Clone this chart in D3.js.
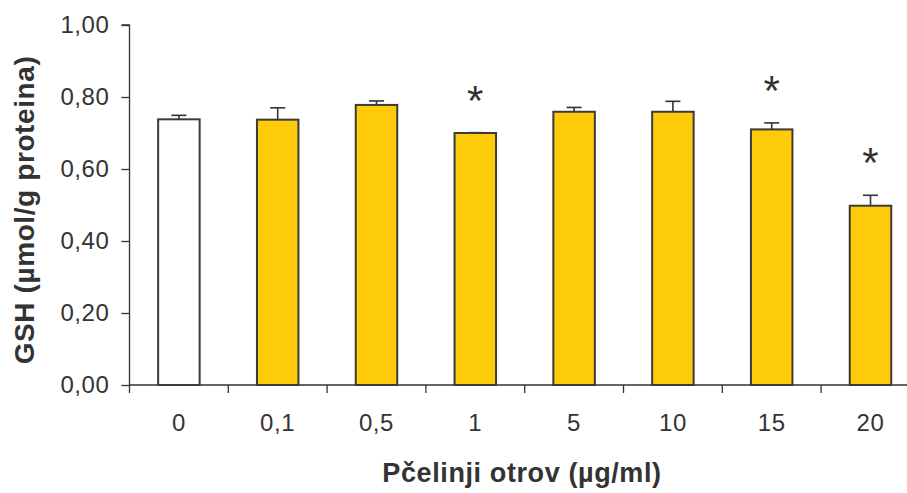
<!DOCTYPE html>
<html>
<head>
<meta charset="utf-8">
<script src="https://cdn.jsdelivr.net/npm/d3@7"></script>
<style>
  body { margin: 0; background: #fff; }
  text { font-family: "Liberation Sans", Arial, sans-serif; fill: #333; }
</style>
</head>
<body>
<div id="chart"></div>
<script>
let categories = ["0", "0,1", "0,5", "1", "5", "10", "15", "20"];
let values = [0.738, 0.737, 0.778, 0.700, 0.759, 0.759, 0.710, 0.498];
let errors = [0.011, 0.033, 0.011, 0.001, 0.012, 0.029, 0.018, 0.029];
let significant = [false, false, false, true, false, false, true, true];
let yTicks = [0, 0.2, 0.4, 0.6, 0.8, 1.0];

let width = 907, height = 493;
let margin = {top: 25, left: 129.5, bottom: 108};

let svg = d3.select("#chart").append("svg")
  .attr("width", width)
  .attr("height", height);

let x = d3.scaleBand()
  .domain(categories)
  .range([margin.left, margin.left + 98.8 * categories.length])
  .paddingInner(0.58)
  .paddingOuter(0.29);

let y = d3.scaleLinear()
  .domain([0, 1])
  .range([height - margin.bottom, margin.top]);

let fmt = d3.format(".2f");

// y axis
let yAxis = svg.append("g")
  .attr("transform", "translate(" + margin.left + ",0)")
  .call(d3.axisLeft(y).tickValues(yTicks).tickSize(8).tickPadding(12)
    .tickFormat(d => fmt(d).replace(".", ",")));
yAxis.selectAll("text").style("font-size", "24px").style("letter-spacing", "0.6px");
yAxis.selectAll("line, path").attr("stroke", "#333").attr("stroke-width", 1.3);
yAxis.select(".domain").attr("d", "M0," + y(0) + "V" + y(1) + "H-8");

// x axis baseline + ticks on band edges
let g = svg.append("g");
g.append("line")
  .attr("x1", margin.left).attr("x2", width)
  .attr("y1", y(0)).attr("y2", y(0))
  .attr("stroke", "#333").attr("stroke-width", 1.3);
g.selectAll(".xtick")
  .data(categories)
  .enter().append("line")
  .attr("x1", (d, i) => margin.left + i * x.step())
  .attr("x2", (d, i) => margin.left + i * x.step())
  .attr("y1", y(0)).attr("y2", y(0) + 8)
  .attr("stroke", "#333").attr("stroke-width", 1.3);
g.selectAll(".xlabel")
  .data(categories)
  .enter().append("text")
  .attr("x", d => x(d) + x.bandwidth() / 2)
  .attr("y", y(0) + 46)
  .attr("text-anchor", "middle")
  .style("font-size", "24px").style("letter-spacing", "0.6px")
  .text(d => d);

// error bars
let eb = svg.selectAll(".err")
  .data(categories)
  .enter().append("g");
eb.append("line")
  .attr("x1", d => x(d) + x.bandwidth() / 2)
  .attr("x2", d => x(d) + x.bandwidth() / 2)
  .attr("y1", (d, i) => y(values[i]))
  .attr("y2", (d, i) => y(values[i] + errors[i]))
  .attr("stroke", "#333").attr("stroke-width", 1.6);
eb.append("line")
  .attr("x1", d => x(d) + x.bandwidth() / 2 - 7.5)
  .attr("x2", d => x(d) + x.bandwidth() / 2 + 7.5)
  .attr("y1", (d, i) => y(values[i] + errors[i]))
  .attr("y2", (d, i) => y(values[i] + errors[i]))
  .attr("stroke", "#333").attr("stroke-width", 1.6);

// bars
svg.selectAll(".bar")
  .data(categories)
  .enter().append("rect")
  .attr("x", d => x(d))
  .attr("y", (d, i) => y(values[i]))
  .attr("width", x.bandwidth())
  .attr("height", (d, i) => y(0) - y(values[i]))
  .attr("fill", (d, i) => i == 0 ? "#fff" : "#fdcb0a")
  .attr("stroke", "#3a3a3a")
  .attr("stroke-width", 2);

// significance stars
svg.selectAll(".star")
  .data(categories.filter((d, i) => significant[i]))
  .enter().append("text")
  .attr("x", d => x(d) + x.bandwidth() / 2)
  .attr("y", d => { let i = categories.indexOf(d); return y(values[i] + errors[i]) - 18; })
  .attr("text-anchor", "middle")
  .style("font-size", "42px")
  .text("*");

// axis titles
svg.append("text")
  .attr("x", 522).attr("y", 482)
  .attr("text-anchor", "middle")
  .style("font-size", "27px").style("font-weight", "bold").style("letter-spacing", "0.6px")
  .text("Pčelinji otrov (µg/ml)");
svg.append("text")
  .attr("transform", "translate(34,210) rotate(-90)")
  .attr("text-anchor", "middle")
  .style("font-size", "28px").style("font-weight", "bold").style("letter-spacing", "0.6px")
  .text("GSH (µmol/g proteina)");
</script>
</body>
</html>
